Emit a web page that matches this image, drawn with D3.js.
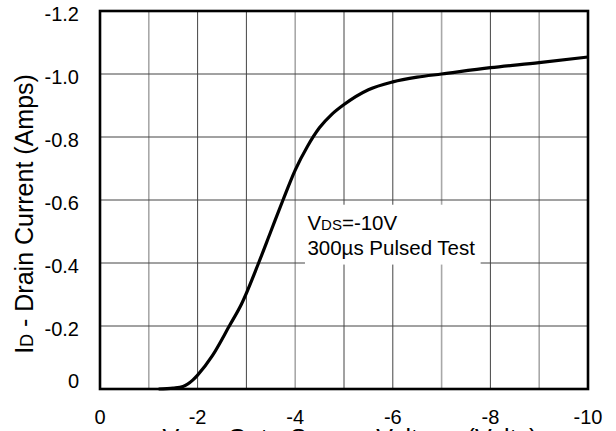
<!DOCTYPE html>
<html>
<head>
<meta charset="utf-8">
<script src="https://cdn.jsdelivr.net/npm/d3@7"></script>
<style>
  body { margin: 0; background: #fff; }
  text { font-family: "Liberation Sans", Arial, sans-serif; fill: #000; }
</style>
</head>
<body>
<div id="chart"></div>
<script>
// gate-source voltage (V) and drain current (A)
const vgs = [-1.2, -1.5, -1.7, -1.9, -2.0, -2.3, -2.65, -2.9, -3.25, -3.5, -3.75, -4.0, -4.25, -4.5, -4.75, -5.0, -5.5, -6.0, -6.5, -7.0, -8.0, -9.0, -10.0];
const idrain = [0, -0.003, -0.008, -0.028, -0.044, -0.105, -0.2, -0.27, -0.4, -0.5, -0.6, -0.695, -0.77, -0.83, -0.872, -0.903, -0.95, -0.975, -0.99, -1.0, -1.02, -1.036, -1.054];

const xTicks = [0, -2, -4, -6, -8, -10];
const yTicks = [0, -0.2, -0.4, -0.6, -0.8, -1.0, -1.2];
const xGrid = [-1, -2, -3, -4, -5, -6, -7, -8, -9];
const yGrid = [-0.2, -0.4, -0.6, -0.8, -1.0];
const noteLines = ["=-10V", "300\u00b5s Pulsed Test"];

let svgWidth = 616;
let svgHeight = 431;
let margin = { top: 11, right: 28, bottom: 42, left: 100 };

let xScale = d3.scaleLinear().domain([0, -10]).range([margin.left, svgWidth - margin.right]);
let yScale = d3.scaleLinear().domain([0, -1.2]).range([svgHeight - margin.bottom, margin.top]);

let svg = d3.select("#chart").append("svg")
  .attr("width", svgWidth)
  .attr("height", svgHeight);

// grid, some lines come out lighter in the original
let lightLines = [-1, -4, -7, -9];
svg.selectAll("line.vgrid")
  .data(xGrid)
  .enter()
  .append("line")
  .attr("class", "vgrid")
  .attr("x1", d => xScale(d)).attr("x2", d => xScale(d))
  .attr("y1", yScale(0)).attr("y2", yScale(-1.2))
  .attr("stroke", d => lightLines.includes(d) ? "#a8a8a8" : "#444")
  .attr("stroke-width", d => lightLines.includes(d) ? 1.6 : 1);

svg.selectAll("line.hgrid")
  .data(yGrid)
  .enter()
  .append("line")
  .attr("class", "hgrid")
  .attr("x1", xScale(0)).attr("x2", xScale(-10))
  .attr("y1", d => yScale(d)).attr("y2", d => yScale(d))
  .attr("stroke", "#444")
  .attr("stroke-width", 1);

// white box behind the note
svg.append("rect")
  .attr("x", xScale(-4.2))
  .attr("y", yScale(-0.585))
  .attr("width", xScale(-7.8) - xScale(-4.2))
  .attr("height", yScale(-0.395) - yScale(-0.585))
  .attr("fill", "#fff");

let note = svg.append("g").style("font-size", "20.5px");
let t1 = note.append("text").attr("x", xScale(-4.25)).attr("y", 230);
t1.append("tspan").text("V");
t1.append("tspan").style("font-size", "15px").text("DS");
t1.append("tspan").text(noteLines[0]);
note.append("text").attr("x", xScale(-4.25)).attr("y", 255).text(noteLines[1]);

// curve
let line = d3.line()
  .x((d, i) => xScale(vgs[i]))
  .y(d => yScale(d))
  .curve(d3.curveMonotoneX);

svg.append("path")
  .datum(idrain)
  .attr("d", line)
  .attr("fill", "none")
  .attr("stroke", "#000")
  .attr("stroke-width", 3.2)
  .attr("stroke-linejoin", "round");

// frame
svg.append("rect")
  .attr("x", xScale(0))
  .attr("y", yScale(-1.2))
  .attr("width", xScale(-10) - xScale(0))
  .attr("height", yScale(0) - yScale(-1.2))
  .attr("fill", "none")
  .attr("stroke", "#000")
  .attr("stroke-width", 2.6);

// tick labels (plain hyphen as minus, like the original)
svg.selectAll("text.xlab")
  .data(xTicks)
  .enter()
  .append("text")
  .attr("class", "xlab")
  .attr("x", d => xScale(d))
  .attr("y", 424)
  .attr("text-anchor", "middle")
  .style("font-size", "20px")
  .text(d => String(d));

svg.selectAll("text.ylab")
  .data(yTicks)
  .enter()
  .append("text")
  .attr("class", "ylab")
  .attr("x", 79)
  .attr("y", d => yScale(d) + (d === 0 ? -1 : 10))
  .attr("text-anchor", "end")
  .style("font-size", "20px")
  .text(d => d === 0 ? "0" : d.toFixed(1));

// axis titles
let yTitle = svg.append("text")
  .attr("transform", "translate(33," + 214 + ") rotate(-90)")
  .attr("text-anchor", "middle")
  .style("font-size", "25px");
yTitle.append("tspan").text("I");
yTitle.append("tspan").style("font-size", "18px").text("D");
yTitle.append("tspan").text(" - Drain Current (Amps)");

// x title is cut by the bottom edge in the original
let xTitle = svg.append("text")
  .attr("x", 350)
  .attr("y", 447)
  .attr("text-anchor", "middle")
  .style("font-size", "25px");
xTitle.append("tspan").text("V");
xTitle.append("tspan").style("font-size", "18px").text("GS");
xTitle.append("tspan").text(" - Gate-Source Voltage (Volts)");
</script>
</body>
</html>
